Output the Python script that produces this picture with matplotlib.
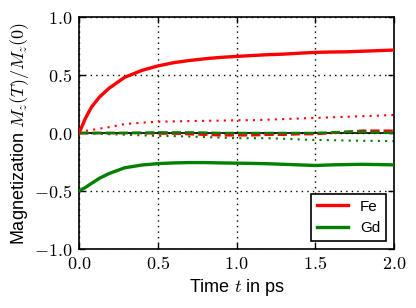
import matplotlib
matplotlib.use('Agg')
import matplotlib.pyplot as plt
from matplotlib.ticker import FuncFormatter

plt.rcParams['font.family'] = ['Liberation Sans', 'DejaVu Sans']
plt.rcParams['mathtext.fontset'] = 'cm'

# time axis (ps)
t = [0.0, 0.02, 0.04, 0.08, 0.13, 0.19, 0.29, 0.4, 0.5, 0.6, 0.7, 0.8, 0.9,
     1.0, 1.1, 1.2, 1.3, 1.4, 1.5, 1.6, 1.7, 1.8, 1.9, 2.0]
fe_z = [0.0, 0.06, 0.125, 0.225, 0.31, 0.385, 0.48, 0.54, 0.578, 0.606, 0.625,
        0.64, 0.652, 0.66, 0.668, 0.675, 0.68, 0.688, 0.695, 0.698, 0.70,
        0.705, 0.71, 0.715]
gd_z = [-0.5, -0.485, -0.47, -0.434, -0.39, -0.35, -0.30, -0.276, -0.264,
        -0.258, -0.255, -0.255, -0.258, -0.26, -0.262, -0.265, -0.27, -0.275,
        -0.28, -0.275, -0.272, -0.27, -0.272, -0.275]
fe_dot = [0.0, 0.01, 0.018, 0.026, 0.038, 0.05, 0.077, 0.089, 0.097, 0.10,
          0.103, 0.105, 0.107, 0.11, 0.11, 0.115, 0.12, 0.125, 0.13, 0.135,
          0.14, 0.145, 0.15, 0.155]
gd_dot = [0.0, -0.002, -0.003, -0.005, -0.007, -0.01, -0.015, -0.02, -0.025,
          -0.027, -0.03, -0.035, -0.04, -0.045, -0.045, -0.045, -0.05, -0.055,
          -0.06, -0.062, -0.065, -0.067, -0.068, -0.07]
fe_dash = [0.0, 0.0, 0.0, 0.0, 0.0, 0.0, 0.0, 0.0, -0.005, -0.005, -0.01, -0.015,
           -0.02, -0.02, -0.02, -0.015, -0.015, -0.01, -0.01, 0.0, 0.01, 0.02,
           0.02, 0.02]
gd_dash = [0.0, 0.0, 0.0, 0.0, 0.0, 0.0, 0.0, 0.003, 0.005, 0.005, 0.005, 0.003,
           0.0, 0.0, 0.0, 0.0, 0.0, 0.0, 0.0, 0.005, 0.01, 0.01, 0.005, 0.0]

fig = plt.figure(figsize=(4.16, 3.08), dpi=100)
ax = fig.add_axes([79/416, 1 - 249/308, 315/416, 232/308])

ax.axhline(0, color='k', lw=1.2, zorder=1)
ax.plot(t, fe_z, color='red', lw=2.4, label='Fe', zorder=3)
ax.plot(t, gd_z, color='green', lw=2.4, label='Gd', zorder=3)
ax.plot(t, fe_dot, color='red', lw=1.5, ls=(0, (1, 2.5)), zorder=2)
ax.plot(t, gd_dot, color='green', lw=1.5, ls=(0, (1, 2.5)), zorder=2)
ax.plot(t, fe_dash, color='red', lw=1.8, ls='--', zorder=2)
ax.plot(t, gd_dash, color='green', lw=1.8, ls='--', zorder=2)

ax.set_xlim(0, 2)
ax.set_ylim(-1, 1)
ax.set_xticks([0, 0.5, 1.0, 1.5, 2.0])
ax.set_yticks([-1, -0.5, 0, 0.5, 1.0])
fmt = FuncFormatter(lambda v, p: r'$%.1f$' % v)
ax.xaxis.set_major_formatter(fmt)
ax.yaxis.set_major_formatter(fmt)
ax.tick_params(direction='in', top=True, right=True, labelsize=13, length=4,
               width=1, pad=5)
ax.grid(True, color='k', ls=(0, (1, 3)), lw=1.0)
for s in ax.spines.values():
    s.set_linewidth(1.2)

ax.set_xlabel(r'Time $t$ in ps', fontsize=13, labelpad=3)
ax.set_ylabel(r'Magnetization $M_z(T)/M_z(0)$', fontsize=13, labelpad=2)

leg = ax.legend(loc='lower right', fontsize=11, fancybox=False,
                edgecolor='k', framealpha=1, handlelength=2.0)
leg.get_frame().set_linewidth(1.2)

fig.savefig('out.png', dpi=100)
